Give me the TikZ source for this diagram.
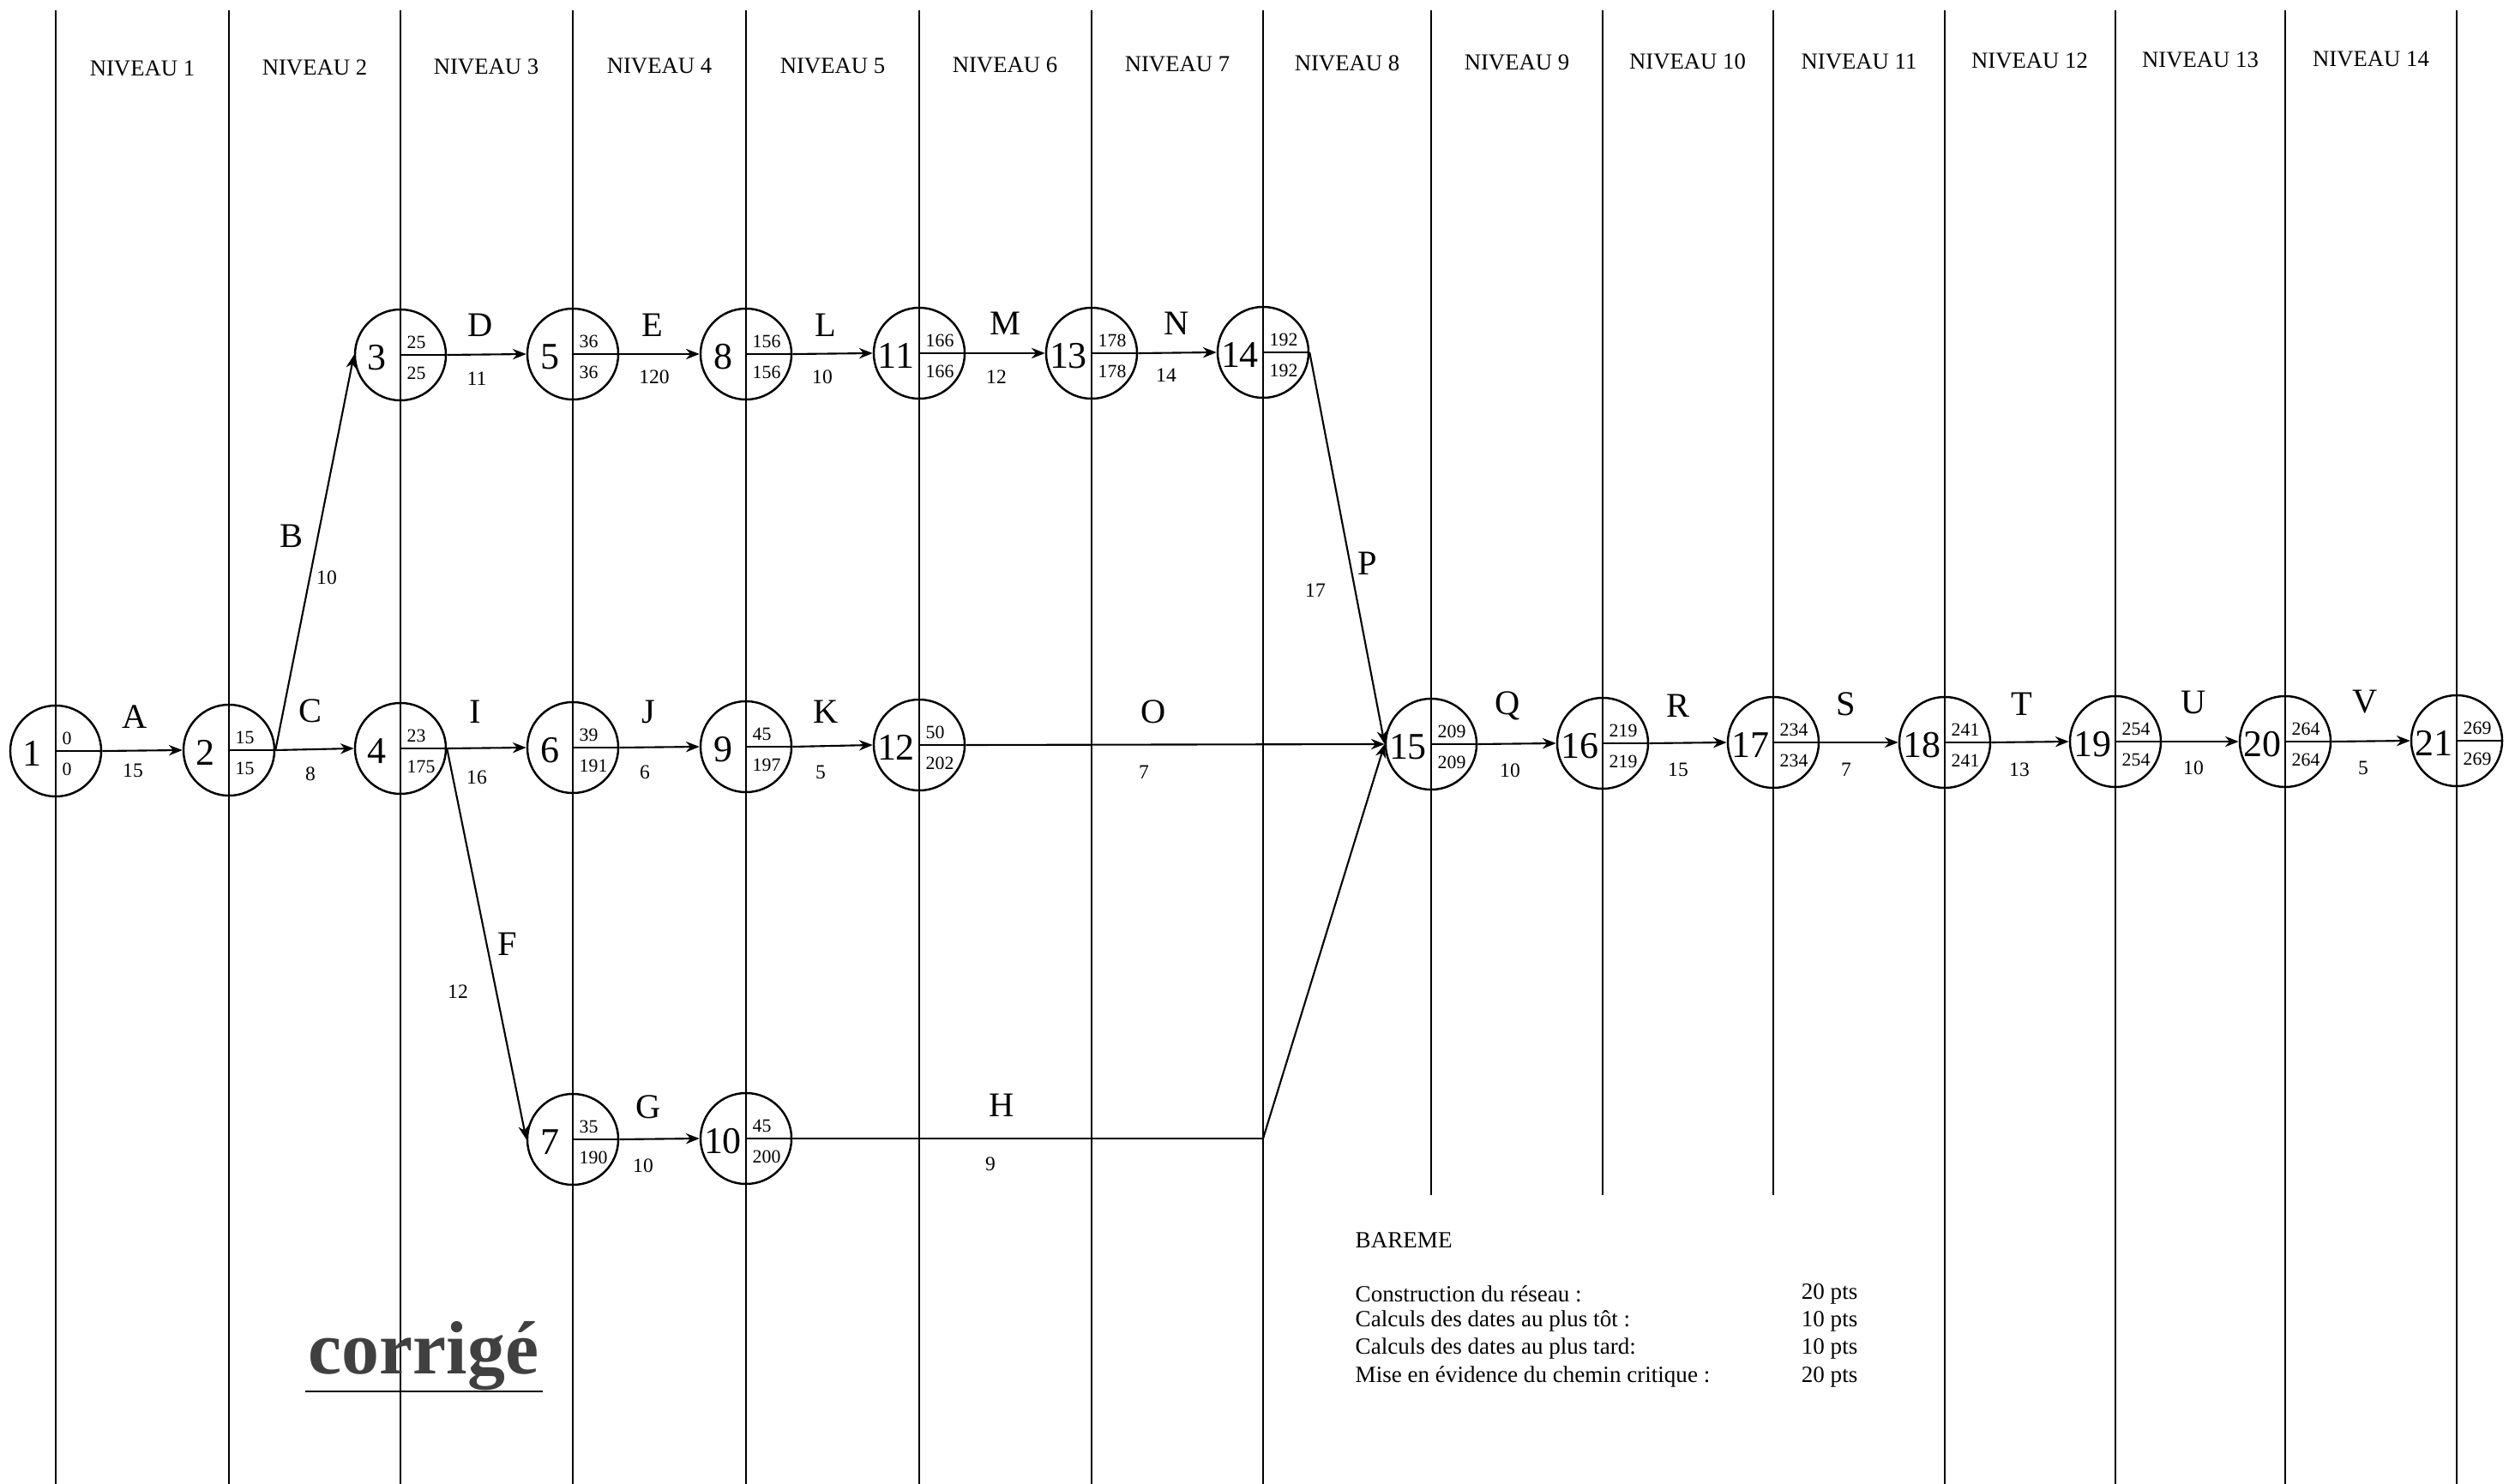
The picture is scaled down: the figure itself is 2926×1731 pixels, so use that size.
\documentclass[tikz,border=0pt]{standalone}
\usepackage{fontspec}
\setmainfont{Liberation Serif}
\usetikzlibrary{arrows.meta}
\newcommand\evtnode[5]{%
  \node[evt] (n#1) at (#2,#3) {};
  \node[evnum] (n#1l) at ([xshift=-0.27cm,yshift=-0.03cm]n#1.center) {#1};
  \node[dt] (n#1t) at ([xshift=0.07cm,yshift=0.15cm]n#1.center) {#4};
  \node[dt] (n#1b) at ([xshift=0.07cm,yshift=-0.21cm]n#1.center) {#5};
  \draw[seg] (n#1.center) -- (n#1.east);
}
\begin{document}
\begin{tikzpicture}[x=0.01cm,y=-0.01cm,
  lvl/.style={line width=0.6pt},
  evt/.style={circle,draw,line width=0.7pt,minimum size=1.06cm,inner sep=0pt},
  evnum/.style={inner sep=0pt,font=\fontsize{12.5}{14}\selectfont},
  dt/.style={inner sep=0pt,anchor=west,font=\fontsize{6.2}{6.5}\selectfont},
  act/.style={inner sep=0pt,font=\fontsize{11.5}{13}\selectfont},
  dur/.style={inner sep=0pt,font=\fontsize{6.7}{8}\selectfont},
  hdr/.style={inner sep=0pt,font=\fontsize{7.6}{9}\selectfont},
  arr/.style={line width=0.6pt,-{Stealth[length=4.5pt,width=3.5pt]}},
  seg/.style={line width=0.6pt},
  bareme/.style={inner sep=0pt,anchor=west,font=\fontsize{7.7}{9}\selectfont},
  pts/.style={inner sep=0pt,anchor=east,font=\fontsize{7.7}{9}\selectfont},
]
\useasboundingbox (0,0) rectangle (2926,1731);
\fill[white] (0,0) rectangle (2926,1731);

% level lines
\foreach \x/\yb in {65/1731,267/1731,467/1731,668/1731,870/1731,1072/1731,1273/1731,1473/1731,1669/1394,1869/1394,2068/1394,2268/1731,2467/1731,2665/1731,2865/1731}
  \draw[lvl] (\x,12) -- (\x,\yb);

% headers
\foreach \k/\x/\y in {1/166/80,2/367/79,3/567/78,4/769/77,5/971/77,6/1172/76,7/1373/75,8/1571/74,9/1769/73,10/1968/72,11/2168/72,12/2367/71,13/2566/70,14/2765/69}
  \node[hdr] (h\k) at (\x,\y) {NIVEAU \k};

% events
\evtnode{1}{65}{876}{0}{0}
\evtnode{2}{267}{875}{15}{15}
\evtnode{3}{467}{414}{25}{25}
\evtnode{4}{467}{873}{23}{175}
\evtnode{5}{668}{413}{36}{36}
\evtnode{6}{668}{872}{39}{191}
\evtnode{7}{668}{1329}{35}{190}
\evtnode{8}{870}{413}{156}{156}
\evtnode{9}{870}{871}{45}{197}
\evtnode{10}{870}{1328}{45}{200}
\evtnode{11}{1072}{412}{166}{166}
\evtnode{12}{1072}{869}{50}{202}
\evtnode{13}{1273}{412}{178}{178}
\evtnode{14}{1473}{411}{192}{192}
\evtnode{15}{1669}{868}{209}{209}
\evtnode{16}{1869}{867}{219}{219}
\evtnode{17}{2068}{866}{234}{234}
\evtnode{18}{2268}{866}{241}{241}
\evtnode{19}{2467}{865}{254}{254}
\evtnode{20}{2665}{865}{264}{264}
\evtnode{21}{2865}{864}{269}{269}

% activities
\draw[arr] (n1.east) -- (n2.west);
\draw[arr] (n2.east) -- (n3.west);
\draw[arr] (n2.east) -- (n4.west);
\draw[arr] (n3.east) -- (n5.west);
\draw[arr] (n5.east) -- (n8.west);
\draw[arr] (n8.east) -- (n11.west);
\draw[arr] (n11.east) -- (n13.west);
\draw[arr] (n13.east) -- (n14.west);
\draw[arr] (n14.east) -- (n15.west);
\draw[arr] (n4.east) -- (n6.west);
\draw[arr] (n4.east) -- (n7.west);
\draw[arr] (n6.east) -- (n9.west);
\draw[arr] (n9.east) -- (n12.west);
\draw[arr] (n12.east) -- (n15.west);
\draw[arr] (n7.east) -- (n10.west);
\coordinate (hc) at (1473,1328);
\draw[seg] (n10.east) -- (hc);
\draw[arr] (hc) -- (n15.west);
\draw[arr] (n15.east) -- (n16.west);
\draw[arr] (n16.east) -- (n17.west);
\draw[arr] (n17.east) -- (n18.west);
\draw[arr] (n18.east) -- (n19.west);
\draw[arr] (n19.east) -- (n20.west);
\draw[arr] (n20.east) -- (n21.west);

% activity labels and durations
\foreach \n/\lx/\ly/\d/\dx/\dy in {
  A/157/836/15/155/899, B/340/625/10/381/674, C/362/829/8/362/903,
  D/560/379/11/556/442, E/761/379/120/763/440, L/963/379/10/959/440,
  M/1172/377/12/1162/440, N/1372/377/14/1360/438,
  I/554/830/16/556/907, J/756/830/6/752/901, K/963/830/5/957/901,
  O/1345/830/7/1334/901, F/592/1101/12/534/1157, P/1595/657/17/1534/689,
  G/756/1291/10/750/1360, H/1168/1289/9/1155/1358,
  Q/1758/823/10/1761/899, R/1957/823/15/1957/898, S/2153/821/7/2153/898,
  T/2358/821/13/2355/898, U/2558/819/10/2558/896, V/2758/819/5/2756/896}
{
  \node[act] (l\n) at (\lx,\ly) {\n};
  \node[dur] (d\n) at (\dx,\dy) {\d};
}

% bareme
\node[bareme] (bt) at (1580,1447) {BAREME};
\node[bareme] (b1) at (1580,1509) {Construction du réseau :};
\node[bareme] (b2) at (1580,1541) {Calculs des dates au plus tôt :};
\node[bareme] (b3) at (1580,1573) {Calculs des dates au plus tard:};
\node[bareme] (b4) at (1580,1606) {Mise en évidence du chemin critique :};
\node[pts] (p1) at (2167,1509) {20 pts};
\node[pts] (p2) at (2167,1541) {10 pts};
\node[pts] (p3) at (2167,1573) {10 pts};
\node[pts] (p4) at (2167,1606) {20 pts};

% corrige
\node[inner sep=0pt,anchor=base,text=black!75,font=\fontsize{25}{30}\selectfont\bfseries] (corr) at (494,1602) {corrigé};
\draw[line width=0.8pt] ([shift={(-3,21)}]corr.base west) -- ([shift={(4,21)}]corr.base east);
\end{tikzpicture}
\end{document}
